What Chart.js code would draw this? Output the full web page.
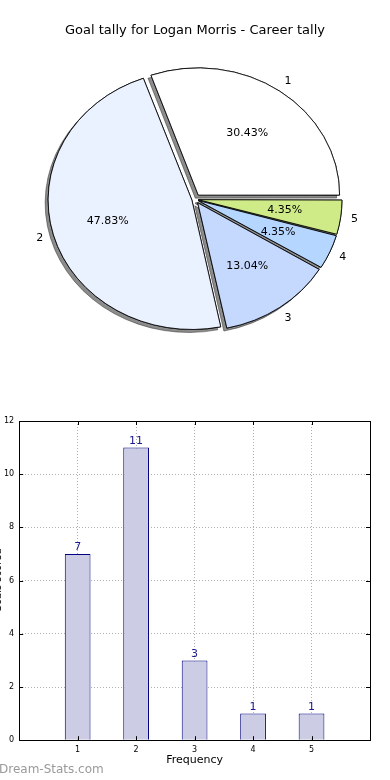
<!DOCTYPE html>
<html>
<head>
<meta charset="utf-8">
<script src="https://cdn.jsdelivr.net/npm/chart.js@4.4.1/dist/chart.umd.min.js"></script>
<style>
  html, body { margin: 0; padding: 0; background: #fff; overflow: hidden; }
  body { width: 390px; height: 780px; position: relative; font-family: "DejaVu Sans", sans-serif; }
  #pie-chart { position: absolute; left: 0; top: 0; }
  #bar-chart { position: absolute; left: -9px; top: 390px; }
  #watermark { position: absolute; left: -1px; top: 762px; font-size: 12px; color: #9a9a9a; }
</style>
</head>
<body>
<canvas id="pie-chart" width="390" height="390"></canvas>
<canvas id="bar-chart" width="399" height="390"></canvas>
<div id="watermark">Dream-Stats.com</div>
<script>
const chartTitle = "Goal tally for Logan Morris - Career tally";
const sliceLabels = ["1", "2", "3", "4", "5"];
const goalCounts = [7, 11, 3, 1, 1];
const sliceColors = ["#ffffff", "#ebf2ff", "#c5d9ff", "#b5d6fe", "#cfeb88"];
const barCategories = [1, 2, 3, 4, 5];
const xAxisTitle = "Frequency";
const yAxisTitle = "Goals scored";

Chart.defaults.font.family = '"DejaVu Sans", sans-serif';

const EXPLODE = 6;     // px the slices are pushed out
const SQUASH = 0.9;    // pie is a bit flatter than round
const total = goalCounts.reduce((a, b) => a + b, 0);

// chart.js runs clockwise, the original runs the other way, so flip the order
const pieData = goalCounts.slice().reverse();
const pieColors = sliceColors.slice().reverse();

function squash(ctx, arc) {
  ctx.translate(arc.x, arc.y);
  ctx.scale(1, SQUASH);
  ctx.translate(-arc.x, -arc.y);
}

const pieLook = {
  id: "pieLook",
  beforeDatasetsDraw(chart) {
    const data = chart.getDatasetMeta(0).data;
    const ctx = chart.ctx;
    // shadow pass first, the real slices go on top of it
    ctx.save();
    squash(ctx, data[0]);
    ctx.shadowColor = "rgba(0,0,0,0.45)";
    ctx.shadowOffsetX = -3;
    ctx.shadowOffsetY = 3;
    data.forEach(arc => arc.draw(ctx));
    ctx.restore();
    ctx.save();
    squash(ctx, data[0]);
  },
  afterDatasetsDraw(chart) {
    const ctx = chart.ctx;
    ctx.restore();
    ctx.save();
    ctx.font = '11px "DejaVu Sans"';
    ctx.fillStyle = "#000";
    ctx.textAlign = "center";
    ctx.textBaseline = "middle";
    chart.getDatasetMeta(0).data.forEach((arc, i) => {
      const k = goalCounts.length - 1 - i;
      const mid = (arc.startAngle + arc.endAngle) / 2;
      const r = arc.outerRadius;
      const px = d => arc.x + (EXPLODE + d * r) * Math.cos(mid);
      const py = d => arc.y + SQUASH * (EXPLODE + d * r) * Math.sin(mid);
      ctx.fillText(sliceLabels[k], px(1.1), py(1.1));
      ctx.fillText((goalCounts[k] / total * 100).toFixed(2) + "%", px(0.6), py(0.6));
    });
    ctx.restore();
  }
};

new Chart(document.getElementById("pie-chart"), {
  type: "pie",
  data: {
    labels: sliceLabels.slice().reverse(),
    datasets: [{
      data: pieData,
      backgroundColor: pieColors,
      borderColor: "#000",
      borderWidth: 0.9,
      // arc element moves offset/4 * (1 + fix), undo that so every slice moves EXPLODE px
      offset: ctx => {
        const circ = ctx.raw / total * Math.PI * 2;
        const fix = 1 - Math.sin(Math.min(Math.PI, circ));
        return 4 * EXPLODE / (1 + fix);
      },
      hoverOffset: 0
    }]
  },
  options: {
    responsive: false,
    devicePixelRatio: 1,
    animation: false,
    events: [],
    rotation: 90,
    radius: 141,
    layout: { padding: { top: 0, bottom: 30 } },
    plugins: {
      legend: { display: false },
      tooltip: { enabled: false },
      title: {
        display: true,
        text: chartTitle,
        color: "#000",
        font: { size: 13, weight: "normal" },
        padding: { top: 23, bottom: 0 }
      }
    }
  },
  plugins: [pieLook]
});

const barExtras = {
  id: "barExtras",
  afterDatasetsDraw(chart) {
    const ctx = chart.ctx;
    ctx.save();
    ctx.font = '11px "DejaVu Sans"';
    ctx.fillStyle = "#1a1a8c";
    ctx.textAlign = "center";
    ctx.textBaseline = "bottom";
    chart.getDatasetMeta(0).data.forEach((bar, i) => {
      ctx.fillText(String(goalCounts[i]), bar.x, bar.y - 1);
    });
    ctx.restore();
  },
  afterDraw(chart) {
    const { ctx, chartArea: a, scales: { x, y } } = chart;
    ctx.save();
    ctx.strokeStyle = "#000";
    ctx.lineWidth = 1;
    ctx.strokeRect(Math.round(a.left) + 0.5, Math.round(a.top) + 0.5,
      Math.round(a.right - a.left), Math.round(a.bottom - a.top));
    // inward tick marks on every side
    ctx.beginPath();
    x.ticks.forEach(t => {
      const p = Math.round(x.getPixelForValue(t.value)) + 0.5;
      ctx.moveTo(p, a.bottom); ctx.lineTo(p, a.bottom - 4);
      ctx.moveTo(p, a.top); ctx.lineTo(p, a.top + 4);
    });
    y.ticks.forEach(t => {
      const p = Math.round(y.getPixelForValue(t.value)) + 0.5;
      ctx.moveTo(a.left, p); ctx.lineTo(a.left + 4, p);
      ctx.moveTo(a.right, p); ctx.lineTo(a.right - 4, p);
    });
    ctx.stroke();
    ctx.restore();
  }
};

new Chart(document.getElementById("bar-chart"), {
  type: "bar",
  data: {
    datasets: [{
      data: barCategories.map((c, i) => ({ x: c, y: goalCounts[i] })),
      backgroundColor: "#cccce5",
      borderColor: "#000080",
      borderWidth: 1,
      barPercentage: 0.44,
      categoryPercentage: 1
    }]
  },
  options: {
    responsive: false,
    devicePixelRatio: 1,
    animation: false,
    events: [],
    layout: { padding: { top: 31, right: 20, bottom: 12, left: 0 } },
    plugins: {
      legend: { display: false },
      tooltip: { enabled: false }
    },
    scales: {
      x: {
        type: "linear",
        offset: false,
        z: 1,
        min: 0,
        max: 6,
        afterBuildTicks: axis => { axis.ticks = barCategories.map(v => ({ value: v })); },
        grid: { color: "#b0b0b0", drawTicks: false, offset: false },
        border: { display: false, dash: [1, 2] },
        ticks: { color: "#000", font: { size: 8 }, padding: 5 },
        title: { display: true, text: xAxisTitle, color: "#000", font: { size: 11 }, padding: { top: -6, bottom: 1 } }
      },
      y: {
        min: 0,
        max: 12,
        z: 1,
        grid: { color: "#b0b0b0", drawTicks: false },
        border: { display: false, dash: [1, 2] },
        ticks: { stepSize: 2, color: "#000", font: { size: 8 }, padding: 5 },
        title: { display: true, text: yAxisTitle, color: "#000", font: { size: 10 }, padding: { top: 1, bottom: -5 } }
      }
    }
  },
  plugins: [barExtras]
});
</script>
</body>
</html>
